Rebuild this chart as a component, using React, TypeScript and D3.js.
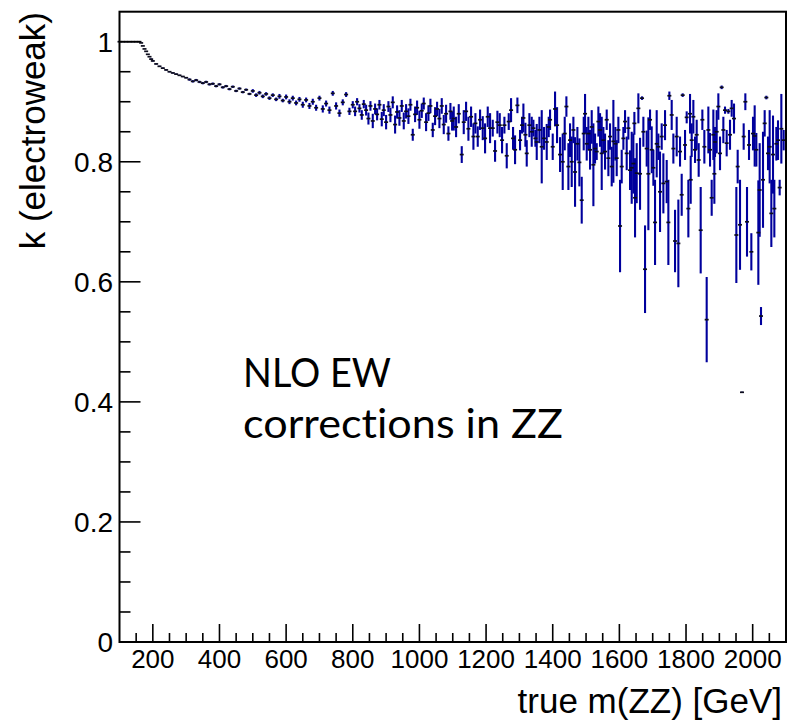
import React from "react";
import * as d3 from "d3";

// true m(ZZ) in GeV, electroweak k-factor and its uncertainty
const massGeV = [
  100, 110, 120, 130, 140, 150, 160, 165, 170, 175, 180, 185, 190, 195, 200, 210, 220, 230, 240, 250,
  260, 270, 280, 290, 300, 310, 320, 330, 340, 350, 360, 370, 380, 390, 400, 410, 420, 430, 440, 450,
  460, 470, 480, 490, 500, 510, 520, 530, 540, 550, 560, 570, 580, 590, 600, 610, 620, 630, 640, 650,
  660, 670, 680, 690, 700, 710, 720, 730, 740, 750, 760, 770, 780, 790,
  800, 807, 813, 820, 827, 833, 840, 847, 853, 860, 867, 873, 880, 887, 893, 900, 907, 913, 920, 927,
  933, 940, 947, 953, 960, 967, 973, 980, 987, 993, 1000, 1007, 1013, 1020, 1027, 1033, 1040, 1047, 1053, 1060,
  1067, 1073, 1080, 1087, 1093, 1098,
  1103, 1110, 1118, 1127, 1133, 1140, 1147, 1155, 1162, 1168, 1175, 1182, 1190, 1197, 1205, 1212, 1220, 1227, 1234, 1241,
  1248, 1255, 1262, 1268, 1275, 1281, 1287, 1294, 1302, 1308, 1312, 1318, 1322, 1330, 1337, 1342, 1348, 1352, 1360, 1367,
  1374, 1382, 1388, 1392, 1400, 1407, 1413, 1422, 1430, 1436, 1441, 1447, 1452, 1457, 1462, 1467, 1474, 1480, 1487, 1493,
  1497, 1502, 1507, 1512, 1517, 1522, 1527, 1532, 1537, 1542, 1547, 1552, 1557, 1562, 1567, 1572, 1577, 1582, 1588, 1592,
  1597, 1602, 1607, 1612, 1617, 1622, 1627, 1632, 1637, 1642, 1645, 1647, 1652, 1657, 1662, 1668, 1672, 1677, 1682, 1687,
  1692, 1697, 1702, 1707, 1712, 1717, 1722, 1727, 1732, 1737, 1742, 1747, 1750, 1757, 1762, 1767, 1772, 1777, 1782, 1787,
  1790, 1797, 1802, 1807, 1812, 1814, 1817, 1822, 1827, 1832, 1838, 1844, 1849, 1855, 1862, 1867, 1872, 1877, 1882, 1885,
  1887, 1892, 1897, 1902, 1907, 1912, 1917, 1922, 1927, 1932, 1937, 1944, 1951, 1955, 1962, 1968, 1973, 1978, 1983, 1989,
  1996, 2001, 2006, 2011, 2017, 2021, 2025, 2031, 2036, 2041, 2046, 2051, 2056, 2061, 2065, 2071, 2076, 2081, 2086, 2093,
];

const kValue = [
  1.0, 1.0, 1.0, 1.0, 1.0, 1.0, 1.0, 0.998, 0.993, 0.988, 0.984, 0.979, 0.975, 0.971, 0.968, 0.963, 0.959, 0.956, 0.953, 0.95,
  0.948, 0.946, 0.944, 0.942, 0.94, 0.937, 0.934, 0.936, 0.933, 0.931, 0.933, 0.929, 0.93, 0.926, 0.929, 0.924, 0.926, 0.921, 0.925, 0.918,
  0.922, 0.916, 0.92, 0.913, 0.918, 0.911, 0.915, 0.909, 0.913, 0.906, 0.911, 0.904, 0.909, 0.902, 0.908, 0.9, 0.906, 0.898, 0.904, 0.895,
  0.903, 0.893, 0.9, 0.89, 0.906, 0.888, 0.897, 0.886, 0.914, 0.893, 0.881, 0.899, 0.912, 0.884,
  0.895, 0.884, 0.9, 0.889, 0.878, 0.896, 0.886, 0.872, 0.893, 0.868, 0.888, 0.879, 0.895, 0.871, 0.886, 0.866, 0.892, 0.878, 0.899, 0.862,
  0.883, 0.873, 0.893, 0.868, 0.884, 0.876, 0.895, 0.845, 0.879, 0.89, 0.87, 0.885, 0.897, 0.866, 0.881, 0.893, 0.853, 0.876, 0.888, 0.872,
  0.893, 0.862, 0.88, 0.847, 0.884, 0.868,
  0.872, 0.858, 0.88, 0.812, 0.866, 0.884, 0.855, 0.875, 0.842, 0.864, 0.842, 0.87, 0.856, 0.839, 0.875, 0.856, 0.856, 0.818, 0.866, 0.861,
  0.836, 0.861, 0.81, 0.867, 0.886, 0.839, 0.82, 0.894, 0.836, 0.861, 0.873, 0.845, 0.814, 0.861, 0.85, 0.856, 0.839, 0.833, 0.853, 0.825,
  0.839, 0.833, 0.858, 0.87, 0.825, 0.888, 0.861, 0.812, 0.8, 0.847, 0.892, 0.792, 0.836, 0.8, 0.853, 0.783, 0.83, 0.799, 0.736, 0.847,
  0.88, 0.83, 0.847, 0.82, 0.858, 0.795, 0.822, 0.817, 0.867, 0.853, 0.814, 0.836, 0.817, 0.87, 0.806, 0.842, 0.792, 0.834, 0.83, 0.806,
  0.853, 0.693, 0.792, 0.839, 0.867, 0.814, 0.856, 0.786, 0.79, 0.797, 0.864, 0.74, 0.781, 0.889, 0.78, 0.906, 0.85, 0.621, 0.822, 0.78,
  0.87, 0.82, 0.79, 0.699, 0.83, 0.825, 0.75, 0.842, 0.764, 0.861, 0.767, 0.699, 0.91, 0.878, 0.822, 0.668, 0.842, 0.664, 0.817, 0.745,
  0.911, 0.828, 0.874, 0.722, 0.88, 0.77, 0.836, 0.875, 0.82, 0.845, 0.803, 0.686, 0.87, 0.825, 0.537, 0.853, 0.82, 0.74, 0.845, 0.78,
  0.833, 0.85, 0.892, 0.814, 0.924, 0.853, 0.886, 0.831, 0.884, 0.845, 0.889, 0.872, 0.678, 0.792, 0.695, 0.416, 0.842, 0.9, 0.7, 0.828,
  0.65, 0.847, 0.843, 0.82, 0.682, 0.753, 0.543, 0.77, 0.864, 0.907, 0.814, 0.825, 0.714, 0.812, 0.722, 0.83, 0.836, 0.757, 0.855, 0.836,
];

const kError = [
  0, 0, 0, 0, 0, 0, 0, 0, 0, 0, 0, 0, 0, 0.001, 0.001, 0.001, 0.001, 0.001, 0.001, 0.001,
  0.001, 0.001, 0.001, 0.001, 0.001, 0.002, 0.002, 0.002, 0.002, 0.002, 0.002, 0.002, 0.002, 0.002, 0.002, 0.002, 0.002, 0.002, 0.002, 0.002,
  0.002, 0.002, 0.002, 0.002, 0.003, 0.003, 0.003, 0.003, 0.003, 0.003, 0.003, 0.003, 0.004, 0.003, 0.004, 0.004, 0.004, 0.004, 0.004, 0.005,
  0.004, 0.005, 0.005, 0.005, 0.004, 0.006, 0.005, 0.006, 0.004, 0.006, 0.006, 0.005, 0.004, 0.006,
  0.006, 0.008, 0.006, 0.007, 0.008, 0.007, 0.009, 0.01, 0.008, 0.012, 0.009, 0.01, 0.008, 0.012, 0.01, 0.012, 0.009, 0.012, 0.01, 0.015,
  0.011, 0.013, 0.01, 0.014, 0.012, 0.013, 0.01, 0.01, 0.013, 0.012, 0.015, 0.012, 0.01, 0.015, 0.013, 0.012, 0.012, 0.015, 0.012, 0.016,
  0.013, 0.016, 0.015, 0.012, 0.014, 0.016,
  0.02, 0.017, 0.016, 0.014, 0.02, 0.016, 0.02, 0.017, 0.022, 0.017, 0.017, 0.017, 0.02, 0.025, 0.017, 0.025, 0.014, 0.018, 0.019, 0.02,
  0.022, 0.014, 0.021, 0.014, 0.02, 0.019, 0.024, 0.013, 0.017, 0.014, 0.024, 0.02, 0.022, 0.02, 0.025, 0.014, 0.014, 0.03, 0.022, 0.061,
  0.019, 0.03, 0.017, 0.017, 0.022, 0.029, 0.03, 0.029, 0.047, 0.028, 0.017, 0.039, 0.028, 0.042, 0.022, 0.058, 0.028, 0.04, 0.039, 0.028,
  0.033, 0.028, 0.028, 0.033, 0.028, 0.069, 0.025, 0.014, 0.025, 0.028, 0.061, 0.022, 0.03, 0.017, 0.03, 0.022, 0.033, 0.069, 0.028, 0.03,
  0.022, 0.077, 0.028, 0.019, 0.019, 0.028, 0.019, 0.033, 0.06, 0.05, 0.019, 0.066, 0.05, 0.025, 0.06, 0.003, 0.025, 0.073, 0.03, 0.094,
  0.017, 0.039, 0.03, 0.071, 0.056, 0.022, 0.067, 0.022, 0.05, 0.025, 0.036, 0.071, 0.007, 0.025, 0.025, 0.052, 0.033, 0.073, 0.025, 0.035,
  0.003, 0.025, 0.01, 0.048, 0.033, 0.04, 0.028, 0.028, 0.022, 0.025, 0.028, 0.072, 0.017, 0.028, 0.071, 0.039, 0.028, 0.03, 0.042, 0.05,
  0.025, 0.036, 0.022, 0.028, 0.003, 0.022, 0.006, 0.022, 0.004, 0.025, 0.014, 0.025, 0.08, 0.028, 0.075, 0.001, 0.022, 0.014, 0.058, 0.025,
  0.031, 0.028, 0.051, 0.028, 0.087, 0.078, 0.015, 0.08, 0.022, 0.003, 0.028, 0.061, 0.056, 0.065, 0.048, 0.028, 0.033, 0.013, 0.058, 0.017,
];

const xMajorTicks = [200, 400, 600, 800, 1000, 1200, 1400, 1600, 1800, 2000];
const yMajorTicks = [0, 0.2, 0.4, 0.6, 0.8, 1];
const yTickLabels = ["0", "0.2", "0.4", "0.6", "0.8", "1"];

const xTitle = "true m(ZZ) [GeV]";
const yTitle = "k (electroweak)";
const noteLines = ["NLO EW", "corrections in ZZ"];

const ARIAL = "'Liberation Sans', Arial, Helvetica, sans-serif";

export default function App() {
  const W = 799;
  const H = 723;
  const x = d3.scaleLinear().domain([100, 2100]).range([119.5, 786]);
  const y = d3.scaleLinear().domain([0, 1.05]).range([642, 11.7]);
  const [x0, x1] = x.range();
  const [y0, y1] = y.range();

  const xMinor = d3.range(150, 2100, 50).filter((v) => v % 200 !== 0);
  const yMinor = d3.range(1, 21).map((i) => i * 0.05).filter((v) => Math.abs(v / 0.2 - Math.round(v / 0.2)) > 1e-6);

  const points = massGeV.map((m, i) => ({ m, k: kValue[i], e: kError[i] }));

  return (
    <svg width={W} height={H} style={{ position: "absolute", left: 0, top: 0, background: "#fff" }}>
      {/* error bars */}
      <g stroke="#00009c" strokeWidth={2.1}>
        {points.filter((p) => p.e > 0).map((p, i) => (
          <line key={i} x1={x(p.m)} x2={x(p.m)} y1={y(p.k - p.e)} y2={y(p.k + p.e)} />
        ))}
      </g>
      {/* point markers */}
      <g stroke="#0c0c1c" strokeWidth={1.7}>
        {points.map((p, i) => (
          <line key={i} x1={x(p.m - 6)} x2={x(p.m + 6)} y1={y(p.k)} y2={y(p.k)} />
        ))}
      </g>

      {/* frame */}
      <rect x={x0} y={y1} width={x1 - x0} height={y0 - y1} fill="none" stroke="#000" strokeWidth={2} />

      {/* ticks */}
      <g stroke="#000" strokeWidth={1.6}>
        {xMajorTicks.map((t) => (
          <line key={"M" + t} x1={x(t)} x2={x(t)} y1={y0} y2={y0 - 18} />
        ))}
        {xMinor.map((t) => (
          <line key={"m" + t} x1={x(t)} x2={x(t)} y1={y0} y2={y0 - 9} />
        ))}
        {yMajorTicks.map((t) => (
          <line key={"YM" + t} x1={x0} x2={x0 + 21} y1={y(t)} y2={y(t)} />
        ))}
        {yMinor.map((t) => (
          <line key={"Ym" + t} x1={x0} x2={x0 + 11} y1={y(t)} y2={y(t)} />
        ))}
      </g>

      {/* tick labels */}
      <g fontFamily={ARIAL} fontSize={26} fill="#000" textAnchor="middle">
        {xMajorTicks.map((t) => (
          <text key={t} x={x(t)} y={668}>{t}</text>
        ))}
      </g>
      <g fontFamily={ARIAL} fontSize={28} fill="#000" textAnchor="end">
        {yMajorTicks.map((t, i) => (
          <text key={t} x={113} y={y(t) + 10}>{yTickLabels[i]}</text>
        ))}
      </g>

      {/* axis titles */}
      <text x={782} y={713} fontFamily={ARIAL} fontSize={35} textAnchor="end" fill="#000">{xTitle}</text>
      <text transform={`translate(45, 12) rotate(-90)`} fontFamily={ARIAL} fontSize={35} textAnchor="end" fill="#000">{yTitle}</text>

      {/* annotation */}
      <g
        fontFamily="Lato, 'Open Sans', sans-serif"
        fontSize={40}
        fill="#000"
        style={{ fontVariantLigatures: "none", fontFeatureSettings: "'liga' 0, 'clig' 0" }}
      >
        <text x={243} y={387} textLength={148} lengthAdjust="spacingAndGlyphs">{noteLines[0]}</text>
        <text x={243} y={438} textLength={320} lengthAdjust="spacingAndGlyphs">{noteLines[1]}</text>
      </g>
    </svg>
  );
}
